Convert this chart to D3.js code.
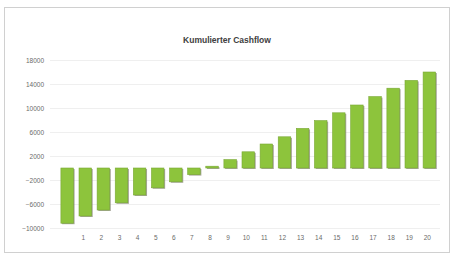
<!DOCTYPE html>
<html><head><meta charset="utf-8">
<script src="https://cdn.jsdelivr.net/npm/d3@7"></script>
<style>html,body{margin:0;padding:0;background:#fff;}svg{display:block;}</style>
</head><body>
<svg id="c" width="453" height="260"></svg>
<script>
const title = "Kumulierter Cashflow";
const categories = ["0","1","2","3","4","5","6","7","8","9","10","11","12","13","14","15","16","17","18","19","20"];
const categoryLabels = ["","1","2","3","4","5","6","7","8","9","10","11","12","13","14","15","16","17","18","19","20"];
const cashflow = [-9200,-8000,-7000,-5800,-4500,-3300,-2300,-1100,300,1400,2700,4000,5200,6600,7900,9200,10500,11900,13300,14600,16000];
const yTicks = [-10000,-6000,-2000,2000,6000,10000,14000,18000];

const svg = d3.select("#c");
svg.append("rect").attr("x",4.5).attr("y",7.5).attr("width",445).attr("height",245)
  .attr("fill","#fff").attr("stroke","#d0d0d0");

const x = d3.scaleBand().domain(categories).range([58,438.5]).paddingInner(0.31).paddingOuter(0.16);
const y = d3.scaleLinear().domain([-10000,18000]).range([228,60]);

// gridlines
svg.append("g").selectAll("line").data(yTicks).join("line")
  .attr("x1",50).attr("x2",440).attr("y1",d=>Math.round(y(d))+0.5).attr("y2",d=>Math.round(y(d))+0.5)
  .attr("stroke","#efefef").attr("stroke-width",1);

// y axis
const ya = svg.append("g").attr("transform","translate(44,0)")
  .call(d3.axisLeft(y).tickValues(yTicks).tickSize(0).tickPadding(0).tickFormat(d3.format("d")));
ya.select(".domain").remove();
ya.selectAll("text").attr("fill","#6a6a6a").style("font-family","Liberation Sans, Arial, sans-serif").style("font-size","6.5px");

// bars shadow
svg.append("g").selectAll("rect").data(cashflow).join("rect")
  .attr("x",(d,i)=>x(categories[i])+1.2)
  .attr("y",d=>Math.min(y(d),y(0))+1)
  .attr("width",x.bandwidth())
  .attr("height",d=>Math.max(1.5,Math.abs(y(d)-y(0))))
  .attr("fill","#8a8a78").attr("opacity",0.75);
// bars
svg.append("g").selectAll("rect").data(cashflow).join("rect")
  .attr("x",(d,i)=>x(categories[i]))
  .attr("y",d=>Math.min(y(d),y(0)))
  .attr("width",x.bandwidth())
  .attr("height",d=>Math.max(1.5,Math.abs(y(d)-y(0))))
  .attr("fill","#8dc43c").attr("stroke","#79a834").attr("stroke-width",0.6);

// x axis labels
const xa = svg.append("g").attr("transform","translate(-2,235)")
  .call(d3.axisBottom(x).tickSize(0).tickPadding(0).tickFormat((d,i)=>categoryLabels[i]));
xa.select(".domain").remove();
xa.selectAll("text").attr("fill","#6a6a6a").style("font-family","Liberation Sans, Arial, sans-serif").style("font-size","6.5px");

svg.append("text").attr("x",227).attr("y",43).attr("text-anchor","middle")
  .style("font-family","Liberation Sans, Arial, sans-serif").style("font-size","8.5px").style("font-weight","bold")
  .attr("fill","#404040").text(title);
</script>
</body></html>
